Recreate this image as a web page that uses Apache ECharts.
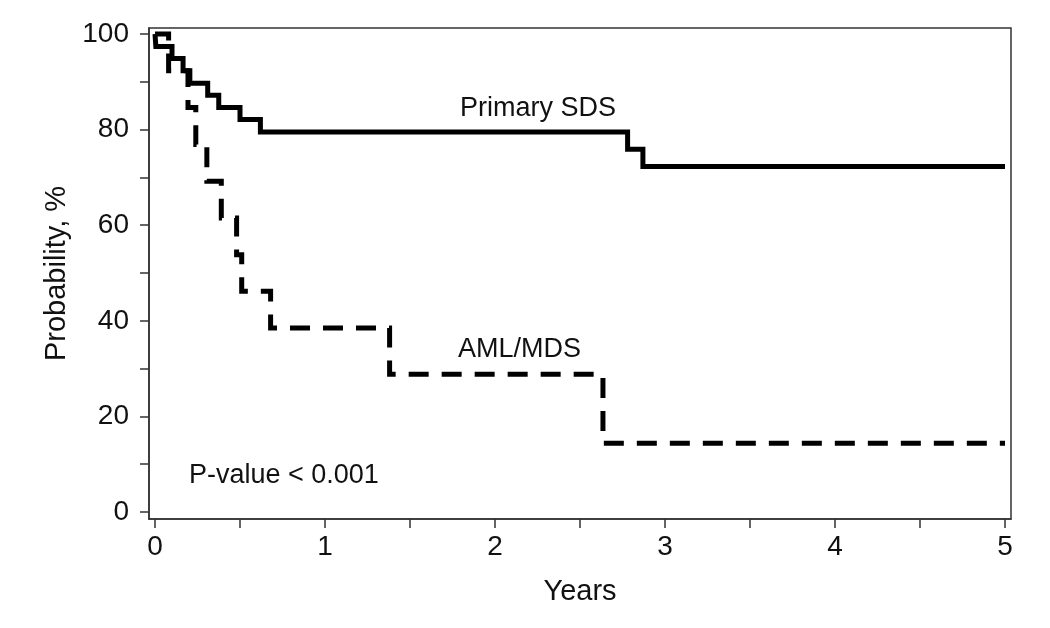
<!DOCTYPE html>
<html>
<head>
<meta charset="utf-8">
<script src="https://cdn.jsdelivr.net/npm/echarts@6/dist/echarts.min.js"></script>
<style>
html,body{margin:0;padding:0;background:#fff;}
#chart{width:1050px;height:628px;}
</style>
</head>
<body>
<div id="chart"></div>
<script>
// Kaplan-Meier style step curves (time in years, probability in %)
const sdsTimes  = [0, 0.005, 0.10, 0.165, 0.205, 0.31, 0.375, 0.50, 0.62, 2.78, 2.87, 5];
const sdsValues = [100, 97.4, 94.9, 92.3, 89.7, 87.2, 84.6, 82.1, 79.5, 75.9, 72.3, 72.3];
const amlTimes  = [0, 0.08, 0.194, 0.24, 0.305, 0.39, 0.48, 0.51, 0.68, 1.38, 2.635, 5];
const amlValues = [100, 92.3, 84.6, 76.9, 69.2, 61.5, 53.8, 46.2, 38.5, 28.8, 14.4, 14.4];
const xTicks = [0, 0.5, 1, 1.5, 2, 2.5, 3, 3.5, 4, 4.5, 5];
const xTickLabels = [0, 1, 2, 3, 4, 5];
const yTicks = [0, 10, 20, 30, 40, 50, 60, 70, 80, 90, 100];
const yTickLabels = [0, 20, 40, 60, 80, 100];
const seriesNames = ['Primary SDS', 'AML/MDS'];
const pText = 'P-value < 0.001';

const FONT = 'Liberation Sans, Arial, sans-serif';
const INK = '#111';

const sdsData = sdsTimes.map((t, i) => [t, sdsValues[i]]);
const amlData = amlTimes.map((t, i) => [t, amlValues[i]]);

const chart = echarts.init(document.getElementById('chart'), null, {renderer: 'canvas'});
chart.setOption({
  animation: false,
  backgroundColor: '#fff',
  grid: {left: 149, right: 39, top: 28, bottom: 109, show: true, borderColor: '#333', borderWidth: 1.5, backgroundColor: 'transparent'},
  xAxis: {
    type: 'value', min: -0.0353, max: 5.0353,
    name: 'Years', nameLocation: 'middle', nameGap: 58,
    nameTextStyle: {fontFamily: FONT, fontSize: 29, color: INK},
    axisLine: {show: true, onZero: false, lineStyle: {color: '#333', width: 1.5}},
    axisTick: {show: true, inside: false, length: 9, customValues: xTicks, lineStyle: {color: '#333', width: 1.5}},
    splitLine: {show: false},
    axisLabel: {
      fontFamily: FONT, fontSize: 28, color: INK, margin: 14, customValues: xTickLabels,
      formatter: v => String(v)
    }
  },
  yAxis: {
    type: 'value', min: -1.464, max: 101.255,
    name: 'Probability, %', nameLocation: 'middle', nameGap: 76,
    nameTextStyle: {fontFamily: FONT, fontSize: 29, color: INK},
    axisLine: {show: true, onZero: false, lineStyle: {color: '#333', width: 1.5}},
    axisTick: {show: true, inside: false, length: 9, customValues: yTicks, lineStyle: {color: '#333', width: 1.5}},
    splitLine: {show: false},
    axisLabel: {
      fontFamily: FONT, fontSize: 28, color: INK, margin: 20, customValues: yTickLabels,
      formatter: v => String(v)
    }
  },
  series: [
    {
      name: seriesNames[0], type: 'line', step: 'end',
      data: sdsData, showSymbol: false, symbol: 'none', z: 5,
      lineStyle: {color: '#000', width: 5, type: 'solid', cap: 'butt', join: 'miter'}
    },
    {
      name: seriesNames[1], type: 'line', step: 'end',
      data: amlData, showSymbol: false, symbol: 'none', z: 4,
      lineStyle: {color: '#000', width: 5, type: [20, 13], cap: 'butt', join: 'miter'}
    }
  ],
  graphic: [
    {type: 'text', left: 460, top: 95, style: {text: seriesNames[0], fontFamily: FONT, fontSize: 27, fill: INK}},
    {type: 'text', left: 458, top: 336, style: {text: seriesNames[1], fontFamily: FONT, fontSize: 27, fill: INK}},
    {type: 'text', left: 189, top: 462, style: {text: pText, fontFamily: FONT, fontSize: 27, fill: INK}}
  ]
});
</script>
</body>
</html>
